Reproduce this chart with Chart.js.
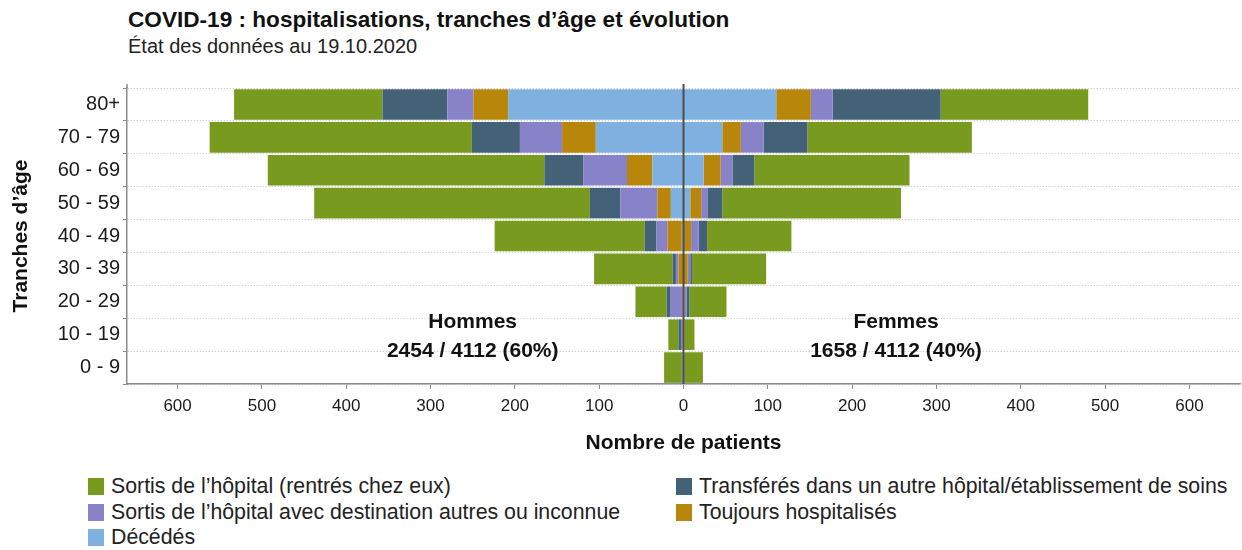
<!DOCTYPE html>
<html>
<head>
  <meta charset="UTF-8">
  <title>COVID-19 : hospitalisations, tranches d'âge et évolution</title>
  <script src="https://cdn.jsdelivr.net/npm/chart.js"></script>
  <style>
    body {
      margin: 0;
      padding: 0;
      width: 1242px;
      height: 550px;
      background-color: white;
      font-family: "Liberation Sans", Arial, sans-serif;
      color: #111;
      position: relative;
      overflow: hidden;
    }
    #titre {
      position: absolute; left: 128px; top: 6px;
      font-size: 22.6px; font-weight: bold; line-height: 28px;
    }
    #soustitre {
      position: absolute; left: 128px; top: 34px;
      font-size: 20px; color: #222; line-height: 24px;
    }
    #boite {
      position: absolute; left: 0; top: 0; width: 1242px; height: 460px;
    }
    .leg {
      position: absolute; font-size: 21.3px; color: #222;
      display: flex; align-items: center; white-space: nowrap;
    }
    .leg span.carre {
      display: inline-block; width: 16px; height: 17px; margin-right: 7px;
    }
  </style>
</head>
<body>
  <div id="titre">COVID-19 : hospitalisations, tranches d’âge et évolution</div>
  <div id="soustitre">État des données au 19.10.2020</div>
  <div id="boite"><canvas id="pyramide"></canvas></div>
  <div id="legende"></div>

  <script type="text/javascript">
    // tranches d'âge (de haut en bas)
    const tranches = ['80+', '70 - 79', '60 - 69', '50 - 59', '40 - 49', '30 - 39', '20 - 29', '10 - 19', '0 - 9'];
    const graduations = [-600, -500, -400, -300, -200, -100, 0, 100, 200, 300, 400, 500, 600];

    // hommes
    const hDecedes    = [208, 104, 37, 15, 2, 0, 0, 0, 0];
    const hToujours   = [41, 40, 30, 16, 17, 6, 1, 1, 0];
    const hAutres     = [31, 50, 52, 44, 13, 3, 15, 2, 1];
    const hTransferes = [77, 57, 46, 36, 14, 4, 4, 3, 1];
    const hSortis     = [176, 311, 328, 327, 178, 93, 37, 12, 21];

    // femmes
    const fDecedes    = [110, 46, 24, 8, 0, 0, 0, 0, 0];
    const fToujours   = [41, 22, 20, 13, 9, 5, 1, 1, 0];
    const fAutres     = [26, 27, 14, 8, 9, 3, 3, 0, 0];
    const fTransferes = [128, 52, 26, 17, 10, 2, 3, 0, 1];
    const fSortis     = [175, 195, 184, 212, 100, 88, 44, 12, 22];

    const totalHommes = 2454;
    const totalFemmes = 1658;
    const totalTous = 4112;

    const couleurs = {
      sortis: '#789a1f',
      transferes: '#436277',
      autres: '#8882c9',
      toujours: '#b8860b',
      decedes: '#7fb1e0'
    };

    const libelles = {
      sortis: 'Sortis de l’hôpital (rentrés chez eux)',
      transferes: 'Transférés dans un autre hôpital/établissement de soins',
      autres: 'Sortis de l’hôpital avec destination autres ou inconnue',
      toujours: 'Toujours hospitalisés',
      decedes: 'Décédés'
    };

    // ordre d'empilement depuis le centre
    const series = [
      ['decedes', hDecedes, fDecedes],
      ['toujours', hToujours, fToujours],
      ['autres', hAutres, fAutres],
      ['transferes', hTransferes, fTransferes],
      ['sortis', hSortis, fSortis]
    ];

    const datasets = [];
    series.forEach(function(s) {
      datasets.push({
        label: libelles[s[0]] + ' (hommes)',
        data: s[1].map(v => -v),
        backgroundColor: couleurs[s[0]],
        borderWidth: 0
      });
      datasets.push({
        label: libelles[s[0]] + ' (femmes)',
        data: s[2],
        backgroundColor: couleurs[s[0]],
        borderWidth: 0
      });
    });

    const police = '"Liberation Sans", Arial, sans-serif';

    const extras = {
      id: 'extras',
      afterDatasetsDraw(chart) {
        const ctx = chart.ctx;
        const x = chart.scales.x;
        const y = chart.scales.y;
        const a = chart.chartArea;
        ctx.save();
        // ligne du zéro
        const x0 = x.getPixelForValue(0);
        ctx.strokeStyle = '#4d4d4d';
        ctx.lineWidth = 2;
        ctx.beginPath();
        ctx.moveTo(x0, a.top - 4);
        ctx.lineTo(x0, a.bottom);
        ctx.stroke();
        // prolongement de l'axe gauche
        ctx.strokeStyle = '#8c8c8c';
        ctx.lineWidth = 1.5;
        ctx.beginPath();
        ctx.moveTo(a.left, a.top - 4);
        ctx.lineTo(a.left, a.top);
        ctx.stroke();
        // annotations
        ctx.fillStyle = '#111';
        ctx.font = 'bold 21px ' + police;
        ctx.textAlign = 'center';
        ctx.textBaseline = 'middle';
        const y1 = y.getPixelForValue(6.62);
        const y2 = y.getPixelForValue(7.5);
        const xh = x.getPixelForValue(-250);
        const xf = x.getPixelForValue(252);
        ctx.fillText('Hommes', xh, y1);
        ctx.fillText(totalHommes + ' / ' + totalTous + ' (' + Math.round(100 * totalHommes / totalTous) + '%)', xh, y2);
        ctx.fillText('Femmes', xf, y1);
        ctx.fillText(totalFemmes + ' / ' + totalTous + ' (' + Math.round(100 * totalFemmes / totalTous) + '%)', xf, y2);
        ctx.restore();
      }
    };

    new Chart(document.getElementById('pyramide').getContext('2d'), {
      type: 'bar',
      data: { labels: tranches, datasets: datasets },
      plugins: [extras],
      options: {
        indexAxis: 'y',
        responsive: true,
        maintainAspectRatio: false,
        animation: false,
        layout: { padding: { top: 88, right: 2, left: 0, bottom: 0 } },
        datasets: { bar: { barPercentage: 0.93, categoryPercentage: 1.0 } },
        plugins: {
          legend: { display: false },
          tooltip: { enabled: false }
        },
        scales: {
          x: {
            stacked: true,
            min: -660,
            max: 660,
            afterBuildTicks: function(scale) {
              scale.ticks = graduations.map(v => ({ value: v }));
            },
            afterFit: function(scale) { scale.height = 76; },
            grid: {
              drawOnChartArea: false,
              drawTicks: true,
              tickLength: 5,
              tickColor: '#8c8c8c'
            },
            border: { display: true, color: '#8c8c8c', width: 1.5 },
            ticks: {
              padding: 7,
              color: '#1a1a1a',
              font: { family: police, size: 17 },
              maxRotation: 0,
              callback: function(value) { return Math.abs(value); }
            },
            title: {
              display: true,
              text: 'Nombre de patients',
              color: '#111',
              font: { family: police, size: 21, weight: 'bold' },
              padding: { top: 0, bottom: 4 }
            }
          },
          y: {
            stacked: true,
            afterFit: function(scale) { scale.width = 127; },
            grid: {
              color: '#d4d4d4',
              lineWidth: 1,
              drawTicks: true,
              tickLength: 4,
              tickColor: '#8c8c8c'
            },
            border: { display: true, color: '#8c8c8c', width: 1.5, dash: [1.5, 1.5] },
            ticks: {
              padding: 3,
              color: '#1a1a1a',
              font: { family: police, size: 20 }
            },
            title: {
              display: true,
              text: 'Tranches d’âge',
              color: '#111',
              font: { family: police, size: 21, weight: 'bold' },
              padding: { top: 9, bottom: 0 }
            }
          }
        }
      }
    });

    // légende sur deux colonnes
    const ordreLegende = [
      ['sortis', 88, 486], ['transferes', 676, 486],
      ['autres', 88, 512], ['toujours', 676, 512],
      ['decedes', 88, 537]
    ];
    const legende = document.getElementById('legende');
    ordreLegende.forEach(function(e) {
      const d = document.createElement('div');
      d.className = 'leg';
      d.style.left = e[1] + 'px';
      d.style.top = (e[2] - 12) + 'px';
      d.style.height = '24px';
      d.innerHTML = '<span class="carre" style="background:' + couleurs[e[0]] + '"></span>' + libelles[e[0]];
      legende.appendChild(d);
    });
  </script>
</body>
</html>
